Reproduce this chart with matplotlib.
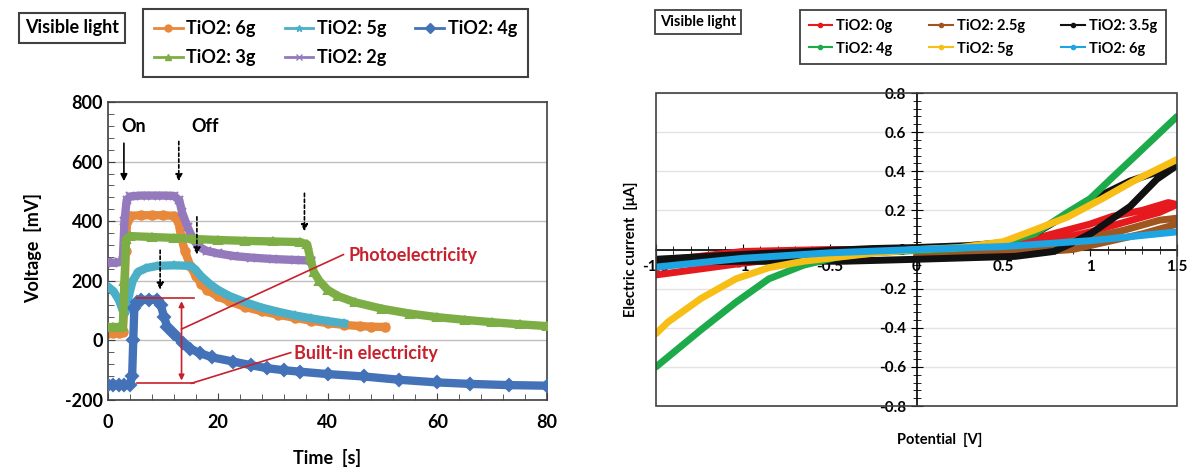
import numpy as np
import matplotlib.pyplot as plt
from matplotlib.lines import Line2D
from matplotlib.patches import Rectangle
from matplotlib.ticker import MultipleLocator

plt.rcParams['font.family'] = ['Lato', 'DejaVu Sans']
plt.rcParams['font.weight'] = 'bold'
plt.rcParams['axes.unicode_minus'] = False

# ---- left panel: photo-voltage vs time ----
t_6g = [0, 1, 2, 2.7, 3.0, 3.2, 3.5, 4, 6, 8, 10, 12, 12.8, 13.3, 14, 15, 16, 17, 18, 20, 22, 25, 28, 31, 34, 37, 40, 43, 46, 48, 50.5]
v_6g = [25, 25, 25, 28, 120, 300, 400, 418, 420, 420, 420, 418, 400, 350, 300, 250, 215, 190, 170, 148, 132, 112, 98, 86, 76, 66, 58, 52, 48, 46, 45]

t_5g = [0, 1, 2, 2.7, 3.2, 3.8, 4.5, 5.5, 7, 9, 12, 15, 15.8, 17, 18.5, 20, 22, 25, 28, 31, 34, 37, 40, 43]
v_5g = [180, 165, 135, 100, 95, 150, 200, 230, 243, 250, 252, 250, 240, 215, 190, 170, 150, 128, 110, 96, 84, 74, 65, 57]

t_4g = [0, 1, 2, 3, 4, 4.4, 4.6, 4.8, 5.2, 6, 7.5, 9, 9.6, 10.2, 10.8, 12, 13.7, 15, 16.8, 19, 22.8, 26, 28.9, 32, 35, 40, 46.6, 53, 60, 66, 73, 80]
v_4g = [-150, -150, -150, -150, -148, -120, 0, 110, 128, 135, 137, 137, 120, 80, 45, 20, -10, -28, -43, -57, -71, -83, -93, -100, -105, -113, -121, -132, -141, -146, -150, -152]

t_3g = [0, 1, 2, 2.7, 3.0, 3.3, 4, 8, 12, 16, 20, 25, 30, 35, 36.3, 36.8, 37.5, 38.5, 40, 42, 45, 50, 55, 60, 65, 70, 75, 80]
v_3g = [45, 45, 45, 48, 200, 340, 350, 347, 344, 340, 337, 334, 332, 330, 322, 280, 230, 200, 170, 148, 128, 106, 90, 78, 69, 61, 54, 48]

t_2g = [0, 1, 2, 2.7, 3.0, 3.4, 4, 6, 8, 10, 12, 13.0, 13.5, 14.5, 15.5, 16.5, 18, 20, 23, 26, 30, 34, 37]
v_2g = [262, 260, 262, 270, 400, 470, 483, 486, 486, 486, 485, 470, 430, 380, 340, 315, 300, 292, 283, 278, 273, 270, 268]

# ---- right panel: I-V sweeps ----
p_0g = [0.0, 0.5, 0.7, 0.87, 1.0, 1.13, 1.3, 1.45, 1.5, 1.4, 1.2, 1.0, 0.8, 0.5, 0.0, -0.5, -1.0, -1.5, -1.5, -1.0, -0.5, 0.0]
i_0g = [0.0, 0.02, 0.06, 0.10, 0.13, 0.17, 0.20, 0.24, 0.23, 0.19, 0.14, 0.09, 0.05, 0.01, 0.0, -0.02, -0.07, -0.13, -0.06, -0.01, 0.0, 0.0]

p_25g = [0.0, 0.6, 0.8, 1.0, 1.2, 1.4, 1.5, 1.5, 1.3, 1.1, 0.9, 0.6, 0.0]
i_25g = [0.0, 0.0, 0.03, 0.06, 0.10, 0.15, 0.16, 0.13, 0.08, 0.04, 0.0, -0.02, -0.03]

p_35g = [-1.5, -1.0, -0.5, -0.25, 0.0, 0.3, 0.5, 0.7, 0.85, 1.0, 1.23, 1.5, 1.385, 1.23, 1.01, 0.9, 0.79, 0.57, 0.0, -0.42, -1.0, -1.5]
i_35g = [-0.05, -0.025, -0.005, 0.005, 0.01, 0.02, 0.035, 0.09, 0.17, 0.25, 0.35, 0.43, 0.36, 0.22, 0.085, 0.034, -0.01, -0.035, -0.05, -0.06, -0.06, -0.065]

p_4g = [-1.5, -1.24, -1.04, -0.85, -0.65, -0.46, -0.26, 0.0, 0.25, 0.48, 0.68, 0.87, 1.0, 1.13, 1.25, 1.5]
i_4g = [-0.60, -0.41, -0.27, -0.15, -0.08, -0.04, -0.017, -0.005, 0.005, 0.03, 0.08, 0.19, 0.26, 0.37, 0.47, 0.68]

p_5g = [-1.5, -1.43, -1.24, -1.04, -0.85, -0.65, -0.46, -0.26, 0.0, 0.25, 0.5, 0.68, 0.87, 1.07, 1.25, 1.5]
i_5g = [-0.43, -0.37, -0.25, -0.15, -0.093, -0.06, -0.04, -0.02, 0.0, 0.01, 0.04, 0.10, 0.166, 0.26, 0.35, 0.46]

p_6g = [-1.5, -1.0, -0.5, 0.0, 0.5, 1.0, 1.5]
i_6g = [-0.09, -0.045, -0.017, 0.0, 0.015, 0.045, 0.09]

W, H = 1193, 471
fig = plt.figure(figsize=(W / 100, H / 100), dpi=100)

def fx(px):
    return px / W

def fy(py):
    return 1 - py / H

# left axes
ax = fig.add_axes([fx(108), fy(400), fx(547 - 108), (400 - 102) / H])
left_series = [
    ("TiO2: 6g", t_6g, v_6g, '#E8883A', 'o'),
    ("TiO2: 5g", t_5g, v_5g, '#4BAFC8', '*'),
    ("TiO2: 4g", t_4g, v_4g, '#4472B8', 'D'),
    ("TiO2: 3g", t_3g, v_3g, '#7DAE45', '^'),
    ("TiO2: 2g", t_2g, v_2g, '#9479BC', 'x'),
]
zorders = {"TiO2: 6g": 2, "TiO2: 5g": 3, "TiO2: 4g": 4, "TiO2: 3g": 5, "TiO2: 2g": 4}
for name, t, v, c, m in left_series:
    ax.plot(t, v, color=c, lw=6, marker=m, ms=6, mew=1.5, zorder=zorders[name])

ax.set_xlim(0, 80)
ax.set_ylim(-200, 800)
ax.xaxis.set_major_locator(MultipleLocator(20))
ax.xaxis.set_minor_locator(MultipleLocator(4))
ax.yaxis.set_major_locator(MultipleLocator(200))
ax.yaxis.set_minor_locator(MultipleLocator(40))
ax.tick_params(which='both', direction='in', labelsize=13, color='#404040')
ax.tick_params(which='major', length=5)
ax.tick_params(which='minor', length=4)
ax.tick_params(axis='x', pad=10)
ax.grid(axis='y', which='major', color='#bfbfbf', lw=1)
ax.set_axisbelow(True)
for s in ax.spines.values():
    s.set_color('#404040')
    s.set_linewidth(1.2)
ax.set_ylabel("Voltage  [mV]", fontsize=13, fontweight='bold')
ax.yaxis.set_label_coords(-0.15, 0.51)
ax.set_xlabel("Time  [s]", fontsize=13, fontweight='bold')
ax.xaxis.set_label_coords(0.499, -0.165)

# On / Off markers
ax.text(2.5, 719, "On", fontsize=13, fontweight='bold', va='center', ha='left')
ax.text(15.2, 719, "Off", fontsize=13, fontweight='bold', va='center', ha='left')
ax.annotate("", xy=(2.9, 525), xytext=(2.9, 671),
            arrowprops=dict(arrowstyle='-|>', color='black', lw=1.2, mutation_scale=10))
for xa, y0, y1 in [(12.9, 677, 525), (16.2, 424, 279), (35.8, 503, 357), (9.5, 312, 161)]:
    ax.annotate("", xy=(xa, y1), xytext=(xa, y0),
                arrowprops=dict(arrowstyle='-|>', color='black', lw=1.2, ls=(0, (2, 1.5)),
                                mutation_scale=10), zorder=8)

red = '#C8202C'
ax.plot([5.2, 15.6], [141, 141], color=red, lw=1.2, zorder=7)
ax.plot([5.2, 15.6], [-144, -144], color=red, lw=1.2, zorder=7)
ax.annotate("", xy=(13.4, 141), xytext=(13.4, -144),
            arrowprops=dict(arrowstyle='<|-|>', color=red, lw=1.2, mutation_scale=8), zorder=7)
ax.plot([13.4, 42.9], [38, 288], color=red, lw=1.2, zorder=7)
ax.plot([15.2, 33.3], [-144, -41], color=red, lw=1.2, zorder=7)
ax.text(43.9, 285, "Photoelectricity", color=red, fontsize=13, fontweight='bold', va='center')
ax.text(33.9, -45, "Built-in electricity", color=red, fontsize=13, fontweight='bold', va='center')

handles = [Line2D([], [], color=c, lw=2, marker=m, ms=5, label=n) for n, _, _, c, m in left_series]
order = [0, 3, 1, 4, 2]
fig.legend([handles[i] for i in order], [handles[i].get_label() for i in order],
           ncol=3, loc='upper left', bbox_to_anchor=(fx(143), fy(9)), borderaxespad=0,
           fancybox=False, edgecolor='#404040', fontsize=13, handlelength=1.6,
           handletextpad=0.2, columnspacing=1.6, borderpad=0.6, labelspacing=0.7,
           framealpha=1).get_frame().set_linewidth(1.5)
fig.text(fx(72), fy(28), "Visible light", fontsize=13, fontweight='bold', ha='center', va='center',
         bbox=dict(boxstyle='square,pad=0.35', fc='white', ec='#404040', lw=1.5))

# right axes
bx = fig.add_axes([fx(656), fy(406), fx(1177 - 656), (406 - 93) / H])
right_series = [
    ("TiO2: 0g", p_0g, i_0g, '#E5191E', 2),
    ("TiO2: 2.5g", p_25g, i_25g, '#A0561F', 3),
    ("TiO2: 3.5g", p_35g, i_35g, '#111111', 4),
    ("TiO2: 4g", p_4g, i_4g, '#1DAA4B', 5),
    ("TiO2: 5g", p_5g, i_5g, '#F7BE16', 6),
    ("TiO2: 6g", p_6g, i_6g, '#1CA5E2', 7),
]
colors_r = {}
for name, p, i, c, z in right_series:
    bx.plot(p, i, color=c, lw=5, solid_capstyle='round', zorder=z)
    colors_r[name] = c

bx.set_xlim(-1.5, 1.5)
bx.set_ylim(-0.8, 0.8)
bx.spines['left'].set_position(('data', 0))
bx.spines['bottom'].set_position(('data', 0))
bx.spines['right'].set_visible(False)
bx.spines['top'].set_visible(False)
for s in ('left', 'bottom'):
    bx.spines[s].set_linewidth(1.2)
    bx.spines[s].set_zorder(1)
bx.add_patch(Rectangle((0, 0), 1, 1, transform=bx.transAxes, fill=False,
                       ec='#404040', lw=1.2, zorder=10, clip_on=False))
bx.xaxis.set_major_locator(MultipleLocator(0.5))
bx.xaxis.set_minor_locator(MultipleLocator(0.1))
bx.yaxis.set_major_locator(MultipleLocator(0.2))
bx.yaxis.set_minor_locator(MultipleLocator(0.04))
bx.tick_params(which='both', direction='inout', labelsize=11)
bx.tick_params(which='major', length=8)
bx.tick_params(which='minor', length=6)
bx.xaxis.set_major_formatter(plt.FuncFormatter(lambda v, _: f"{v:g}"))
bx.yaxis.set_major_formatter(plt.FuncFormatter(lambda v, _: f"{v:g}"))
bx.grid(axis='y', which='major', color='#e3e3e3', lw=1)
bx.set_axisbelow(True)
bx.set_ylabel("Electric current  [\u03bcA]", fontsize=10.5, fontweight='bold')
bx.yaxis.set_label_coords(-0.035, 0.5)
bx.set_xlabel("Potential  [V]", fontsize=10.5, fontweight='bold')
bx.xaxis.set_label_coords(0.545, -0.085)

leg_order = ["TiO2: 0g", "TiO2: 4g", "TiO2: 2.5g", "TiO2: 5g", "TiO2: 3.5g", "TiO2: 6g"]
rh = [Line2D([], [], color=colors_r[n], lw=1.5, marker='o', ms=3) for n in leg_order]
fig.legend(rh, leg_order, ncol=3, loc='upper left', bbox_to_anchor=(fx(800), fy(10)),
           borderaxespad=0, fancybox=False, edgecolor='#404040', fontsize=10.5,
           handlelength=1.6, handletextpad=0.3, columnspacing=2.5, borderpad=0.6,
           labelspacing=0.6, framealpha=1).get_frame().set_linewidth(1.3)
fig.text(fx(698), fy(22), "Visible light", fontsize=10.5, fontweight='bold', ha='center', va='center',
         bbox=dict(boxstyle='square,pad=0.35', fc='white', ec='#404040', lw=1.3))

fig.savefig("out.png", dpi=100)
